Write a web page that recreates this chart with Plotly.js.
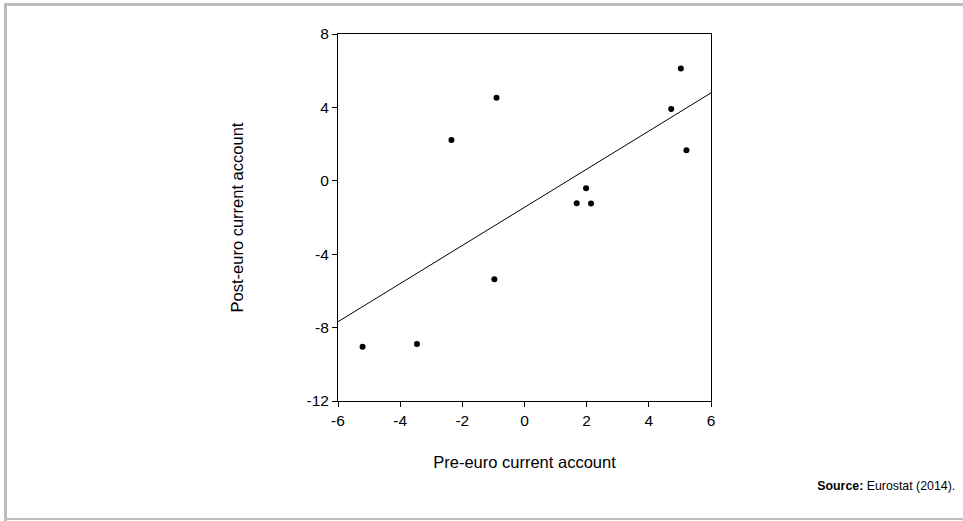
<!DOCTYPE html>
<html>
<head>
<meta charset="utf-8">
<script src="https://cdn.plot.ly/plotly-3.0.1.min.js"></script>
<style>
  html, body { margin: 0; padding: 0; background: #fff; }
  #wrap { position: relative; width: 963px; height: 521px; overflow: hidden; }
  #chart { position: absolute; left: 0; top: 0; width: 963px; height: 521px; }
  .frame { position: absolute; background: #bdbdbd; }
  #source { position: absolute; right: 8px; top: 478px; font-family: "Liberation Sans Narrow", "Arial Narrow", "Liberation Sans", Arial, sans-serif; font-size: 13px; color: #000; transform: scaleX(0.95); transform-origin: right center; }
</style>
</head>
<body>
<div id="wrap">
  <div id="chart"></div>
  <div class="frame" style="left:4px; top:3px; width:3px; height:518px;"></div>
  <div class="frame" style="left:4px; top:3px; width:959px; height:3px;"></div>
  <div class="frame" style="left:4px; top:518px; width:959px; height:2px;"></div>
  <div id="source"><b>Source:</b> Eurostat (2014).</div>
</div>
<script>
// Pre-euro vs post-euro current account (% of GDP)
const preEuro  = [-2.35, -0.90, 5.03, 4.72, 5.21, 1.98, 1.68, 2.14, -0.97, -5.21, -3.46];
const postEuro = [ 2.23,  4.52, 6.12, 3.91, 1.67, -0.40, -1.22, -1.24, -5.37, -9.04, -8.90];
const xTicks = [-6, -4, -2, 0, 2, 4, 6];
const yTicks = [-12, -8, -4, 0, 4, 8];
const xRange = [-6, 6];
const yRange = [-12, 8];

// OLS fit line computed from the data
const n = preEuro.length;
const mx = preEuro.reduce((a, b) => a + b, 0) / n;
const my = postEuro.reduce((a, b) => a + b, 0) / n;
let sxy = 0, sxx = 0;
for (let i = 0; i < n; i++) { sxy += (preEuro[i] - mx) * (postEuro[i] - my); sxx += (preEuro[i] - mx) ** 2; }
const slope = sxy / sxx;
const intercept = my - slope * mx;
const fitX = xRange.slice();
const fitY = fitX.map(x => intercept + slope * x);

const fam = "Liberation Sans, Arial, sans-serif";
const tickFont = { family: fam, size: 15.5, color: "#000" };
const titleFont = { family: fam, size: 16.5, color: "#000" };

const data = [
  { x: fitX, y: fitY, mode: "lines", line: { color: "#000", width: 1 }, hoverinfo: "skip", showlegend: false },
  { x: preEuro, y: postEuro, mode: "markers", marker: { color: "#000", size: 6 }, showlegend: false }
];

const layout = {
  width: 963, height: 521,
  margin: { l: 338, r: 252, t: 34, b: 120 },
  paper_bgcolor: "#fff", plot_bgcolor: "#fff",
  font: tickFont,
  showlegend: false,
  xaxis: {
    range: xRange, tickvals: xTicks, ticktext: xTicks.map(String),
    showgrid: false, zeroline: false,
    showline: true, mirror: true, linecolor: "#000", linewidth: 1,
    ticks: "outside", ticklen: 5, tickcolor: "#000",
    tickfont: tickFont,
    title: { text: "Pre-euro current account", font: titleFont, standoff: 28 },
    automargin: false
  },
  yaxis: {
    range: yRange, tickvals: yTicks, ticktext: yTicks.map(String),
    showgrid: false, zeroline: false,
    showline: true, mirror: true, linecolor: "#000", linewidth: 1,
    ticks: "outside", ticklen: 5, tickcolor: "#000",
    tickfont: tickFont,
    title: { text: "Post-euro current account", font: titleFont, standoff: 58 },
    automargin: false
  }
};

Plotly.newPlot("chart", data, layout, { displayModeBar: false, staticPlot: true });
</script>
</body>
</html>
